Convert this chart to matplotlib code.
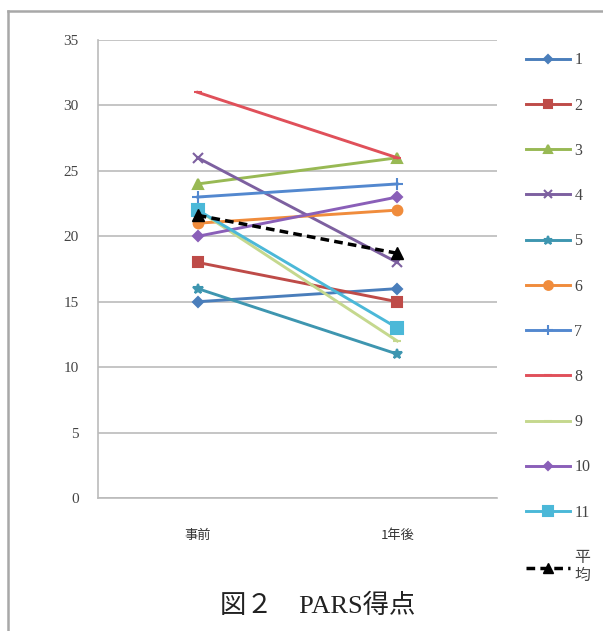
import matplotlib
matplotlib.use("Agg")
import matplotlib.pyplot as plt
from matplotlib.lines import Line2D

# PARS scores before intervention and one year later
categories = ["事前", "1年後"]
series_labels = ["1", "2", "3", "4", "5", "6", "7", "8", "9", "10", "11"]
series_values = [
    [15, 16],
    [18, 15],
    [24, 26],
    [26, 18],
    [16, 11],
    [21, 22],
    [23, 24],
    [31, 26],
    [22, 12],
    [20, 23],
    [22, 13],
]
mean_label = "平\n均"
mean_values = [21.6, 18.7]
y_ticks = [0, 5, 10, 15, 20, 25, 30, 35]
title_text = "図２　PARS得点"

colors = ["#4A7EBB", "#BE4B48", "#98B954", "#7D60A0", "#3E96B0", "#F08C3C",
          "#5388CF", "#E0505A", "#C5D88E", "#8A5FB8", "#4BB8D8"]
markers = ["D", "s", "^", "x", "*", "o", "+", "_", "_", "D", "s"]
msizes = [5, 7, 7, 7, 7, 7, 8, 6, 6, 5, 8]

fig = plt.figure(figsize=(6.03, 6.31), dpi=100)
ax = fig.add_axes([98 / 603, 1 - 498 / 631, (497 - 98) / 603, (498 - 40) / 631])

x = list(range(len(categories)))
handles = []
for vals, lab, c, m, ms in zip(series_values, series_labels, colors, markers, msizes):
    h, = ax.plot(x, vals, color=c, lw=2.1, marker=m, ms=ms, mfc=c, mec=c,
                 mew=1.5, label=lab, zorder=3)
    handles.append(h)
hm, = ax.plot(x, mean_values, color="black", lw=2.5, ls=(0, (2.5, 1.5)),
              marker="^", ms=8, mfc="black", mec="black", label=mean_label, zorder=4)
handles.append(hm)

ax.set_xlim(-0.5, 1.5)
ax.set_ylim(0, 35)
ax.set_yticks(y_ticks)
ax.set_xticks(x)
ax.set_xticklabels(categories, family=["Noto Sans CJK JP"], fontsize=9.5, color="#333333")
for t in ax.get_yticklabels():
    t.set_family(["Liberation Serif"])
    t.set_fontsize(11)
    t.set_color("#444444")
ax.tick_params(axis="y", length=0, pad=14)
ax.tick_params(axis="x", length=0, pad=22)
ax.grid(axis="y", color="#BBBBBB", lw=1.2)
ax.set_axisbelow(True)
for s in ["top", "right"]:
    ax.spines[s].set_visible(False)
ax.spines["left"].set_color("#BBBBBB")
ax.spines["bottom"].set_color("#BBBBBB")
ax.spines["left"].set_linewidth(1.2)
ax.spines["bottom"].set_linewidth(1.2)

leg = fig.legend(handles=handles, loc="upper left",
                 bbox_to_anchor=(520 / 603, 1 - 46 / 631), frameon=False,
                 prop={"family": ["Liberation Serif", "Noto Sans CJK JP"], "size": 11.5},
                 handlelength=2.7, handletextpad=0.3, labelspacing=1.83,
                 borderaxespad=0, markerscale=0.9)
for t in leg.get_texts():
    t.set_color("#444444")

fig.text(318 / 603, 1 - 606 / 631, title_text, ha="center", va="center",
         family=["Liberation Serif", "Noto Sans CJK JP"], fontsize=19, color="#222222")

# chart frame (top and left edges)
fig.add_artist(Line2D([8 / 603, 1.0], [1 - 11 / 631] * 2, color="#A8A8A8", lw=1.8))
fig.add_artist(Line2D([8 / 603] * 2, [0, 1 - 11 / 631], color="#A8A8A8", lw=1.8))

fig.savefig("out.png", dpi=100)
